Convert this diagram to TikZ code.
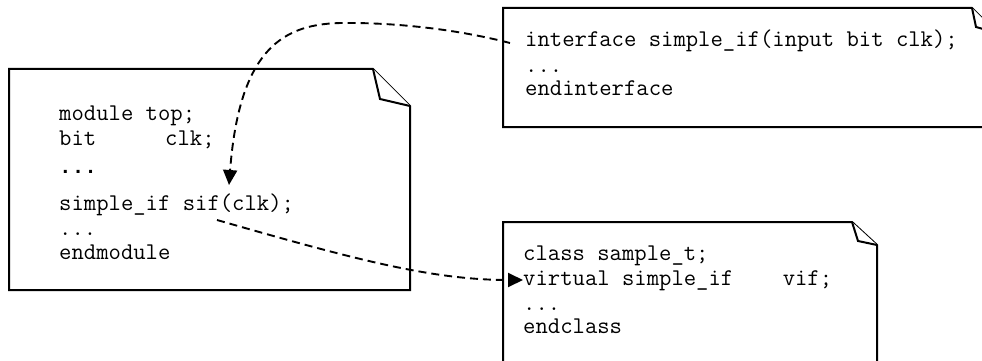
\documentclass[tikz,border=0pt]{standalone}
\usepackage{fontspec}
\newfontfamily\dotfont{Liberation Mono}
\usetikzlibrary{arrows.meta}
\begin{document}
\begin{tikzpicture}[x=1pt,y=-1pt,
  note/.style={draw=black, line width=2pt, line join=miter, fill=white},
  code/.style={anchor=base west, inner sep=0pt, font=\ttfamily\fontsize{24}{28}\selectfont},
  link/.style={line width=1.9pt, dash pattern=on 8pt off 5pt,
               -{Triangle[length=15pt,width=14pt]}}
]
\useasboundingbox (0,0) rectangle (982,361);
\clip (0,0) rectangle (982,361);
\fill[white] (0,0) rectangle (982,361);

% module note
\draw[note] (9,69) -- (373,69) -- (410,106) -- (410,290) -- (9,290) -- cycle;
\draw[note] (373,69) -- (380,99) -- (410,106);
% interface note
\draw[note] (503,8) -- (972,8) -- (997,33) -- (997,127) -- (503,127) -- cycle;
\draw[note] (972,8) -- (976,27) -- (997,33);
% class note
\draw[note] (503,222) -- (852,222) -- (877,245) -- (877,380) -- (503,380) -- cycle;
\draw[note] (852,222) -- (858,241) -- (877,245);

% module text
\node[code] (modtop)  at (59,120) {module top;};
\node[code] (modbit)  at (59,145) {\makebox[106pt][l]{bit}clk;};
\node[code] (moddots) at (59,173) {\dotfont\fontsize{21}{25}\selectfont\bfseries ...};
\node[code] (modsif)  at (59,210) {simple\_if sif(clk);};
\node[code] (modmore) at (59,235) {...};
\node[code] (modend)  at (59,259) {endmodule};

% interface text
\node[code] (iftitle) at (525,47) {interface simple\_if(input bit clk);};
\node[code] (ifmore)  at (525,72) {...};
\node[code] (ifend)   at (525,95) {endinterface};

% class text
\node[code] (clsname) at (523,260) {class sample\_t;};
\node[code] (clsvif)  at (523,285) {virtual simple\_if\ \ \ \ vif;};
\node[code] (clsmore) at (523,310) {...};
\node[code] (clsend)  at (523,333) {endclass};

% connector ends
\coordinate (ifport)  at (510,43);
\coordinate (ifpeak)  at (350,23);
\coordinate (sifin)   at (229,185);
\coordinate (sifout)  at (217,220);
\coordinate (vifin)   at (523,280);

\draw[link] (ifport) .. controls (460,30) and (400,23) .. (ifpeak)
                     .. controls (290,22) and (240,40) .. (sifin);
\draw[link] (sifout) .. controls (350,258) and (430,280) .. (vifin);
\end{tikzpicture}
\end{document}
